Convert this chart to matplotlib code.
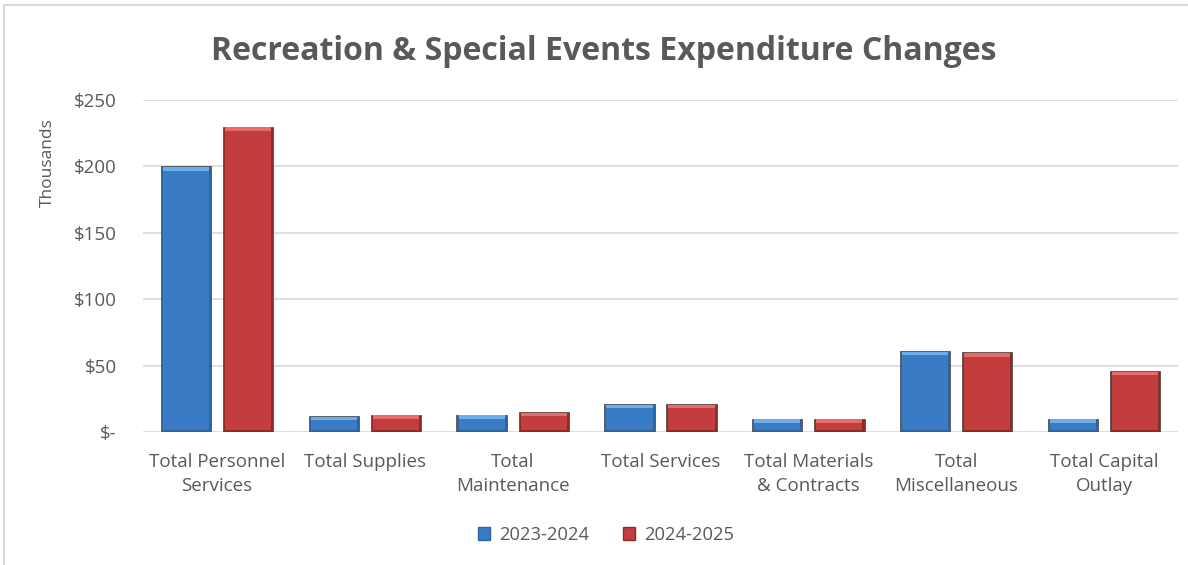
import numpy as np
import matplotlib
matplotlib.use("Agg")
import matplotlib.pyplot as plt
from matplotlib.patches import Rectangle, Patch

plt.rcParams["font.family"] = ["Open Sans", "DejaVu Sans"]

categories = [
    "Total Personnel\nServices",
    "Total Supplies",
    "Total\nMaintenance",
    "Total Services",
    "Total Materials\n& Contracts",
    "Total\nMiscellaneous",
    "Total Capital\nOutlay",
]
fy2324 = [200, 12, 13, 21, 10, 61, 10]
fy2425 = [230, 13, 15, 21, 10, 60, 46]
series_names = ["2023-2024", "2024-2025"]
yticks = [0, 50, 100, 150, 200, 250]
ytick_labels = ["$-", "$50", "$100", "$150", "$200", "$250"]

TEXT = "#595959"
# (edge, body, highlight) per series
STYLES = [
    ("#30649F", "#3A7BC6", "#6DAEEC"),
    ("#8E2A2A", "#C43D3D", "#E96A6A"),
]


def bevel_bars(ax, x, vals, width, style):
    edge, body, hi = style
    bx, by = 0.014, 3.2  # bevel thickness in data units
    ax.bar(x, vals, width=width, color=edge, edgecolor="#404040",
           linewidth=0.5, zorder=3)
    for xi, v in zip(x, vals):
        b = min(by, v / 3)
        ax.add_patch(Rectangle((xi - width / 2 + bx, b * 0.5), width - 2 * bx,
                               v - 1.5 * b, color=body, zorder=4, lw=0))
        ax.add_patch(Rectangle((xi - width / 2 + bx, v - b),
                               width - 2 * bx, b * 0.85, color=hi,
                               zorder=4, lw=0))


fig = plt.figure(figsize=(11.88, 5.65), dpi=100)
ax = fig.add_axes([143 / 1188, 133 / 565, 1035 / 1188, 332 / 565])

x = np.arange(len(categories))
w = 0.34
bevel_bars(ax, x - 0.21, fy2324, w, STYLES[0])
bevel_bars(ax, x + 0.21, fy2425, w, STYLES[1])

ax.set_xlim(-0.5, len(categories) - 0.5)
ax.set_ylim(0, 250)
ax.set_yticks(yticks)
ax.set_yticklabels(ytick_labels)
ax.set_xticks(x)
ax.set_xticklabels(categories, linespacing=1.45)
ax.tick_params(axis="both", length=0, labelsize=13.5, colors=TEXT)
ax.tick_params(axis="y", pad=19)
ax.tick_params(axis="x", pad=15)
ax.grid(axis="y", color="#D9D9D9", linewidth=1.2, zorder=0)
ax.set_axisbelow(True)
for s in ax.spines.values():
    s.set_visible(False)

fig.text(604 / 1188, 1 - 52 / 565, "Recreation & Special Events Expenditure Changes",
         ha="center", va="center", fontsize=23, fontweight="bold", color=TEXT)
fig.text(48 / 1188, 1 - 163 / 565, "Thousands", rotation=90, ha="center",
         va="center", fontsize=12.5, color=TEXT)

handles = [Patch(facecolor=STYLES[i][1], edgecolor=STYLES[i][0])
           for i in range(2)]
fig.legend(handles, series_names, loc="center", bbox_to_anchor=(606 / 1188, 1 - 535 / 565),
           ncol=2, frameon=False, fontsize=13.2, labelcolor=TEXT,
           handlelength=0.7, handleheight=0.7, columnspacing=1.8,
           handletextpad=0.5)

# chart frame
fig.add_artist(Rectangle((4 / 1188, -0.1), 1.2, 1 - 5 / 565 + 0.1,
                         transform=fig.transFigure, fill=False,
                         edgecolor="#D9D9D9", linewidth=1.5))

fig.savefig("out.png", dpi=100)
